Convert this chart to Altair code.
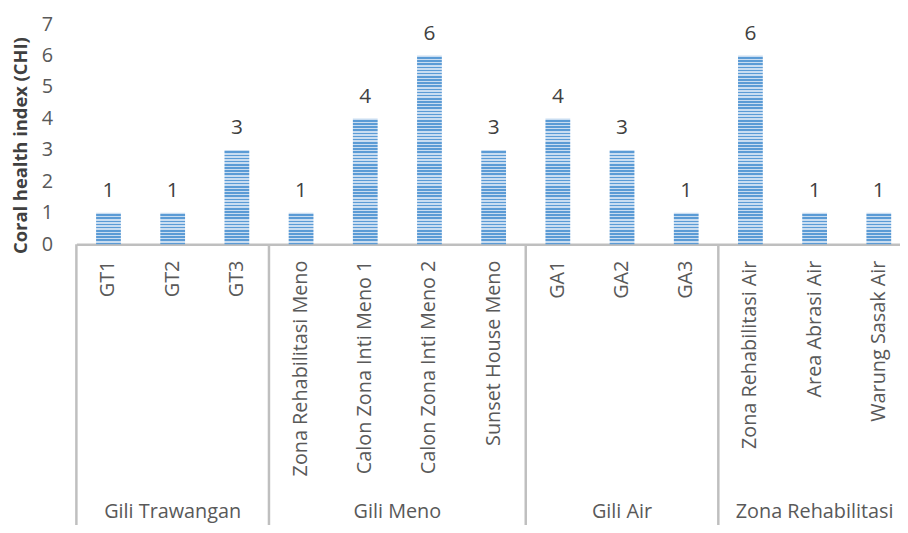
import altair as alt
import pandas as pd

categories = ["GT1", "GT2", "GT3", "Zona Rehabilitasi Meno", "Calon Zona Inti Meno 1",
              "Calon Zona Inti Meno 2", "Sunset House Meno", "GA1", "GA2", "GA3",
              "Zona Rehabilitasi Air", "Area Abrasi Air", "Warung Sasak Air"]
values = [1, 1, 3, 1, 4, 6, 3, 4, 3, 1, 6, 1, 1]
groups = ["Gili Trawangan"] * 3 + ["Gili Meno"] * 4 + ["Gili Air"] * 3 + ["Zona Rehabilitasi"] * 3
y_ticks = [0, 1, 2, 3, 4, 5, 6, 7]

df = pd.DataFrame({"cat": categories, "val": values, "grp": groups})

# group mid points and boundaries (in band index units)
group_names = list(dict.fromkeys(groups))
mids, bounds = [], []
for g in group_names:
    idx = [i for i, gg in enumerate(groups) if gg == g]
    mids.append((idx[0] + idx[-1]) / 2)
    bounds.append(idx[0] - 0.5)
gdf = pd.DataFrame({"grp": group_names, "mid": mids})
bdf = pd.DataFrame({"b": bounds})

W_VIEW = 831
RANGE_W = 842
H = 222
N = len(categories)

FONT = "Open Sans"
GRAY = "#595959"
LINE = "#BFBFBF"
DARK = "#5B9BD5"
LIGHT = "#C9DDF1"

xscale = alt.Scale(domain=categories, range=[0, RANGE_W], paddingInner=0.614, paddingOuter=0.307)
yscale = alt.Scale(domain=[0, 7], nice=False)
qscale = alt.Scale(domain=[-0.5, N - 0.5], range=[0, RANGE_W], nice=False, zero=False)

x_axis = alt.Axis(title=None, labelAngle=-90, labelFont=FONT, labelFontSize=20,
                  labelColor=GRAY, ticks=False, domainColor=LINE, domainWidth=2.5,
                  labelPadding=16, labelLimit=400)
y_axis = alt.Axis(title="Coral health index (CHI)", values=y_ticks, tickCount=8, grid=False,
                  domain=False, ticks=False, labelFont=FONT, labelFontSize=20,
                  labelColor=GRAY, labelPadding=24, labelOverlap=False,
                  titleFont=FONT, titleFontSize=18.5, titleFontWeight="bold",
                  titleColor="#404040", titlePadding=11, titleY=122, titleAlign="center")


def X():
    return alt.X("cat:N", scale=xscale, sort=categories, axis=x_axis)


def Y():
    return alt.Y("val:Q", scale=yscale, axis=y_axis)


def stripe_gradient(n):
    stops = []
    for k in range(n):
        a = k / n
        m = (k + 0.5) / n
        b = (k + 1) / n
        stops += [alt.GradientStop(offset=a, color=LIGHT), alt.GradientStop(offset=m, color=LIGHT),
                  alt.GradientStop(offset=m, color=DARK), alt.GradientStop(offset=b, color=DARK)]
    return alt.LinearGradient(gradient="linear", x1=0, y1=0, x2=0, y2=1, stops=stops)


base = alt.Chart(df)
bar_layers = []
for v in sorted(set(values)):
    bar_layers.append(
        base.transform_filter(alt.datum.val == v).mark_bar(fill=stripe_gradient(v * 10)).encode(
            x=X(), y=Y()
        )
    )

labels = base.mark_text(font=FONT, fontSize=21, color="#404040", baseline="bottom", dy=-12).encode(
    x=X(), y=Y(), text="val:Q",
)

seps = alt.Chart(bdf).mark_rule(color=LINE, strokeWidth=2.5).encode(
    x=alt.X("b:Q", scale=qscale, axis=None),
    y=alt.value(H),
    y2=alt.value(H + 320),
)

glabels = alt.Chart(gdf).mark_text(font=FONT, fontSize=20, color=GRAY, baseline="middle").encode(
    x=alt.X("mid:Q", scale=qscale, axis=None),
    y=alt.value(H + 270),
    text="grp:N",
)

left = alt.layer(*bar_layers, labels)
chart = alt.layer(left, seps, glabels).resolve_scale(x="independent").properties(
    width=W_VIEW, height=H,
    autosize=alt.AutoSizeParams(type="none"),
    padding={"left": 69, "top": 14, "right": 0, "bottom": 281},
).configure_view(stroke=None)

chart.save("out.html", embed_options={"renderer": "svg", "actions": False})
